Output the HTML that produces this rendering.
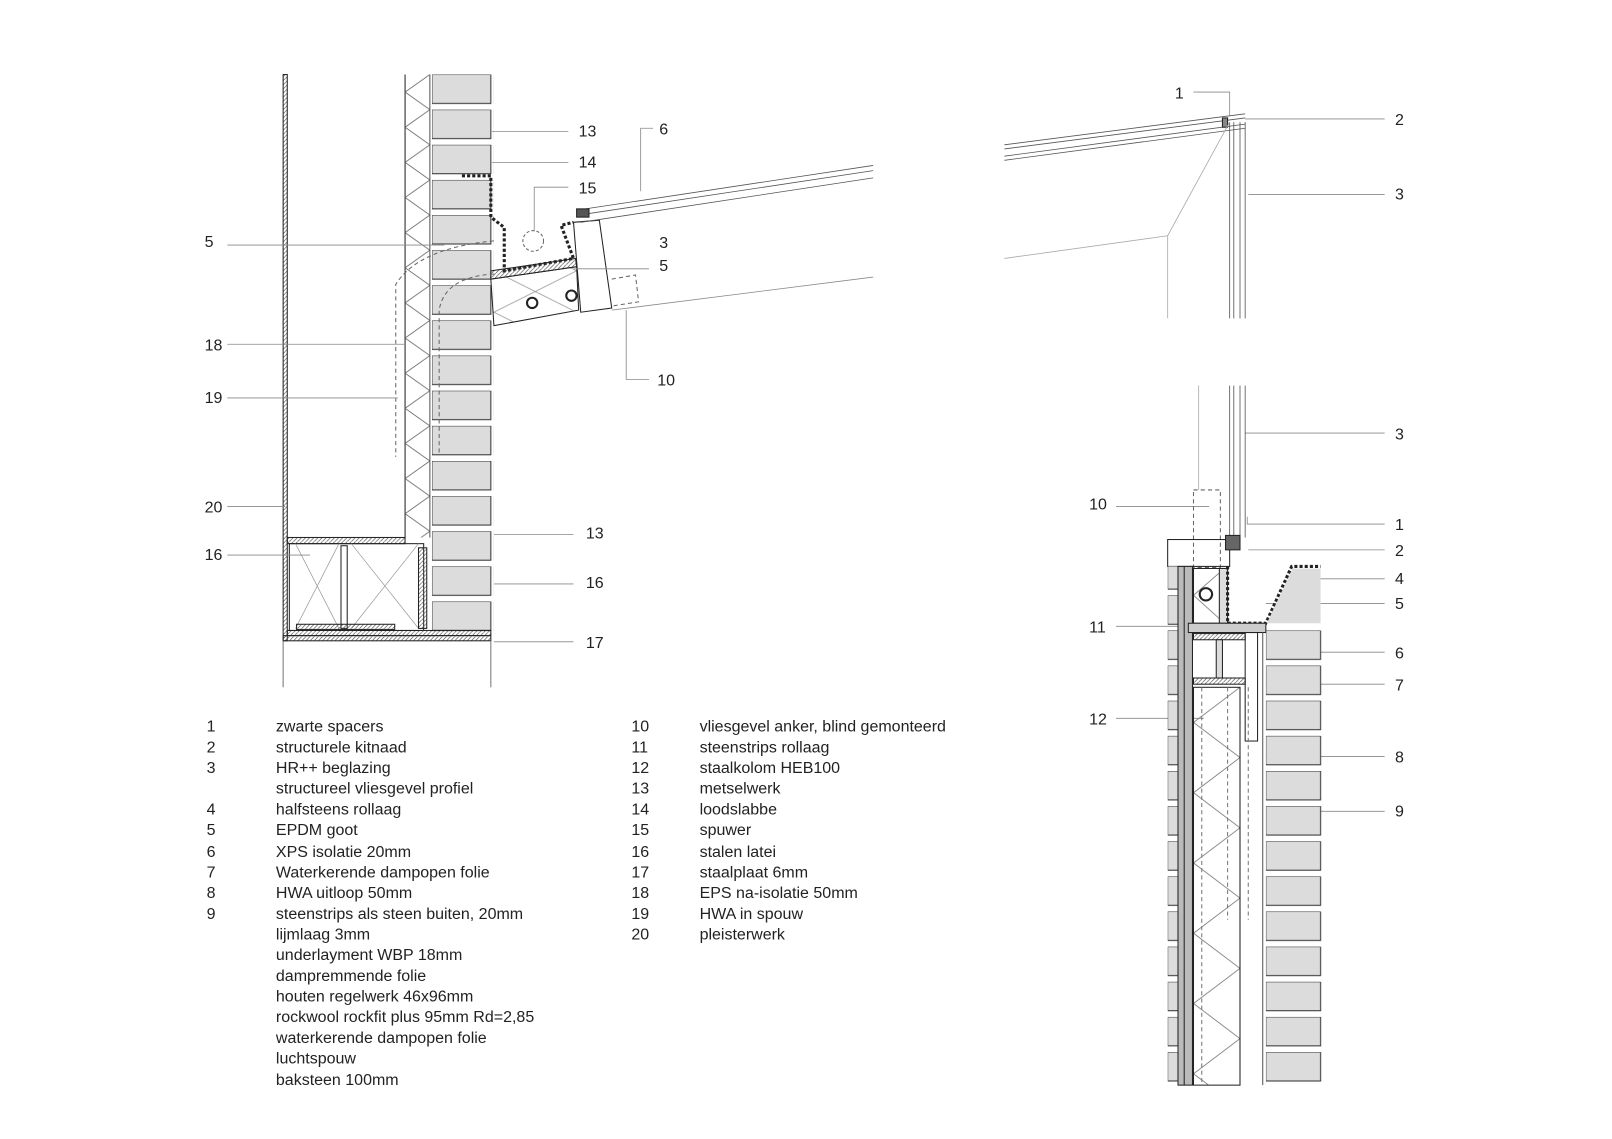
<!DOCTYPE html>
<html><head><meta charset="utf-8"><style>
html,body{margin:0;padding:0;background:#fff}
svg{display:block}
text{font-family:"Liberation Sans","DejaVu Sans",sans-serif;fill:#222}
.n{font-size:15.5px}.l{font-size:15.5px}
</style></head><body>
<svg width="1612" height="1139" viewBox="0 0 1560 1102" xmlns="http://www.w3.org/2000/svg">
<defs>
<pattern id="zzL" width="24" height="34" patternUnits="userSpaceOnUse" x="392" y="72"><path d="M24 0 L0 17 L24 34" fill="none" stroke="#666" stroke-width="0.8"/></pattern>
<pattern id="zzG" width="80" height="40" patternUnits="userSpaceOnUse" x="478" y="262"><path d="M0 0 L80 40 M80 0 L0 40" fill="none" stroke="#888" stroke-width="0.7"/></pattern>
<pattern id="zzS" width="30" height="53" patternUnits="userSpaceOnUse" x="1155" y="550"><path d="M30 0 L0 26 L30 53" fill="none" stroke="#777" stroke-width="0.8"/></pattern>
<pattern id="zzR" width="45" height="68" patternUnits="userSpaceOnUse" x="1155" y="665"><path d="M45 0 L0 34 L45 68" fill="none" stroke="#777" stroke-width="0.8"/></pattern>
<pattern id="brL" width="60" height="34" patternUnits="userSpaceOnUse" x="418" y="72"><rect x="0" y="0" width="57" height="28" fill="#dcdcdc" stroke="#333" stroke-width="1"/></pattern>
<pattern id="brR" width="60" height="34" patternUnits="userSpaceOnUse" x="1225" y="610"><rect x="0" y="0" width="53" height="28" fill="#dcdcdc" stroke="#333" stroke-width="1"/></pattern>
<pattern id="brS" width="20" height="34" patternUnits="userSpaceOnUse" x="1130" y="610"><rect x="0" y="0" width="10" height="28" fill="#dcdcdc" stroke="#333" stroke-width="1"/></pattern>
<pattern id="ht" width="4" height="4" patternUnits="userSpaceOnUse"><path d="M0 4 L4 0" stroke="#555" stroke-width="0.7"/></pattern>
</defs>
<g fill="none" stroke="#222" stroke-width="1">
<!-- LEFT DETAIL -->
<rect x="274" y="72" width="4" height="548" fill="url(#ht)"/>
<line x1="392" y1="72" x2="392" y2="520"/>
<rect x="392" y="72" width="24" height="448" fill="url(#zzL)" stroke="none"/>
<line x1="416" y1="72" x2="416" y2="520" stroke="#555"/>
<rect x="418" y="72" width="60" height="540" fill="url(#brL)" stroke="none"/>
<rect x="278" y="520" width="114" height="6" fill="url(#ht)"/>
<rect x="280" y="526" width="130" height="84"/>
<path d="M286 526 L328 608 M328 526 L286 608 M340 526 L405 608 M405 526 L340 608" stroke="#999" stroke-width="0.7"/>
<rect x="330" y="528" width="6" height="80" fill="#fff"/>
<rect x="287" y="604" width="95" height="5" fill="url(#ht)"/>
<rect x="405" y="530" width="8" height="78" fill="url(#ht)"/>
<rect x="278" y="610" width="197" height="5" fill="url(#ht)"/>
<rect x="274" y="615" width="201" height="5" fill="url(#ht)"/>
<line x1="274" y1="620" x2="274" y2="665" stroke="#777"/>
<line x1="475" y1="620" x2="475" y2="665" stroke="#777"/>
<!-- gutter -->
<path d="M447 170 L475 170 L475 210 L488 220 L488 262 L555 250 L543 218 L555 215" stroke-width="3" stroke-dasharray="3,2"/>
<path d="M555 215 L580 213 L592 298 L562 302 Z"/>
<path d="M475 270 L558 258 L560 300 L478 315 Z" fill="url(#zzG)"/>
<path d="M475 262 L557 250 L558 258 L475 270 Z" fill="url(#ht)"/>
<circle cx="515" cy="293" r="5" stroke-width="2"/>
<circle cx="553" cy="286" r="5" stroke-width="2"/>
<circle cx="516" cy="233" r="10" stroke-dasharray="3,2" stroke="#666"/>
<path d="M592 270 L615 266 L618 292 L592 296" stroke-dasharray="4,3" stroke="#666"/>
<path d="M478 233 Q405 240 383 275 L383 442" stroke-dasharray="4,3" stroke="#666"/>
<path d="M478 265 Q430 268 425 300 L425 440" stroke-dasharray="4,3" stroke="#666"/>
<path d="M560 203 L845 160 M560 208 L845 165 M562 215 L845 172" stroke="#555" stroke-width="0.8"/>
<rect x="558" y="202" width="12" height="8" fill="#555"/>
<path d="M592 300 L845 268" stroke="#888" stroke-width="0.8"/>
<!-- leaders left -->
<g stroke="#888" stroke-width="0.8">
<line x1="220" y1="237" x2="430" y2="237"/>
<line x1="220" y1="333" x2="392" y2="333"/>
<line x1="220" y1="385" x2="385" y2="385"/>
<line x1="220" y1="490" x2="276" y2="490"/>
<line x1="220" y1="537" x2="300" y2="537"/>
<line x1="476" y1="127" x2="550" y2="127"/>
<line x1="476" y1="157" x2="550" y2="157"/>
<path d="M550 181 L517 181 L517 224"/>
<path d="M632 124 L620 124 L620 185"/>
<line x1="555" y1="260" x2="628" y2="260"/>
<path d="M628 367 L606 367 L606 300"/>
<line x1="478" y1="517" x2="555" y2="517"/>
<line x1="478" y1="565" x2="555" y2="565"/>
<line x1="478" y1="621" x2="555" y2="621"/>
</g>
<!-- RIGHT TOP -->
<path d="M972 140 L1205 110 M972 144 L1205 114 M972 151 L1205 120 M972 155 L1205 124" stroke="#555" stroke-width="0.8"/>
<rect x="1183" y="114" width="5" height="9" fill="#888"/>
<path d="M1190 118 L1190 308 M1194 118 L1194 308 M1200 118 L1200 308 M1205 118 L1205 308" stroke="#555" stroke-width="0.8"/>
<path d="M1190 118 L1130 228 L972 250 M1130 228 L1130 308" stroke="#aaa" stroke-width="0.8"/>
<g stroke="#888" stroke-width="0.8">
<path d="M1155 89 L1190 89 L1190 112"/>
<line x1="1205" y1="115" x2="1340" y2="115"/>
<line x1="1208" y1="188" x2="1340" y2="188"/>
<line x1="1205" y1="419" x2="1340" y2="419"/>
<line x1="1080" y1="490" x2="1170" y2="490"/>
<path d="M1340 507 L1207 507 L1207 500"/>
<line x1="1208" y1="532" x2="1340" y2="532"/>
<line x1="1250" y1="560" x2="1340" y2="560"/>
<line x1="1225" y1="584" x2="1340" y2="584"/>
<line x1="1080" y1="606" x2="1165" y2="606"/>
<line x1="1278" y1="631" x2="1340" y2="631"/>
<line x1="1225" y1="662" x2="1340" y2="662"/>
<line x1="1080" y1="695" x2="1165" y2="695"/>
<line x1="1225" y1="732" x2="1340" y2="732"/>
<line x1="1278" y1="785" x2="1340" y2="785"/>
</g>
<!-- RIGHT BOTTOM -->
<path d="M1190 373 L1190 520 M1194 373 L1194 520 M1200 373 L1200 520 M1205 373 L1205 520" stroke="#555" stroke-width="0.8"/>
<line x1="1160" y1="373" x2="1160" y2="474" stroke="#aaa" stroke-width="0.8"/>
<rect x="1155" y="474" width="26" height="75" stroke-dasharray="4,3" stroke="#666"/>
<rect x="1130" y="522" width="60" height="26"/>
<rect x="1186" y="518" width="14" height="14" fill="#666"/>
<rect x="1130" y="548" width="10" height="502" fill="url(#brS)" stroke="none"/>
<rect x="1140" y="548" width="14" height="502" fill="#bbb"/>
<line x1="1146" y1="548" x2="1146" y2="1050"/>
<rect x="1155" y="550" width="30" height="53" fill="url(#zzS)"/>
<circle cx="1167" cy="575" r="6" stroke-width="2"/>
<rect x="1180" y="550" width="8" height="53" fill="#ddd"/>
<path d="M1188 548 L1188 603 L1225 603 L1250 548 L1278 548" stroke-width="3" stroke-dasharray="3,2"/>
<path d="M1226 603 L1251 550 L1278 550 L1278 603 Z" fill="#dcdcdc" stroke="none"/>
<rect x="1150" y="603" width="75" height="9" fill="#ccc"/>
<rect x="1155" y="613" width="50" height="6" fill="url(#ht)"/>
<rect x="1155" y="656" width="50" height="6" fill="url(#ht)"/>
<rect x="1177" y="619" width="6" height="37" fill="#ddd"/>
<rect x="1205" y="612" width="12" height="105"/>
<rect x="1155" y="665" width="45" height="385" fill="url(#zzR)"/>
<line x1="1200" y1="665" x2="1200" y2="1050"/>
<line x1="1163" y1="665" x2="1163" y2="1050" stroke-dasharray="4,3" stroke="#777"/>
<line x1="1188" y1="665" x2="1188" y2="890" stroke-dasharray="4,3" stroke="#777"/>
<line x1="1208" y1="665" x2="1208" y2="890" stroke-dasharray="4,3" stroke="#777"/>
<line x1="1222" y1="612" x2="1222" y2="1050" stroke="#555"/>
<rect x="1225" y="610" width="55" height="440" fill="url(#brR)" stroke="none"/>
</g>
<!-- numbers -->
<g class="n">
<text x="198" y="239">5</text><text x="198" y="339">18</text><text x="198" y="390">19</text><text x="198" y="496">20</text><text x="198" y="542">16</text>
<text x="560" y="132">13</text><text x="560" y="162">14</text><text x="560" y="187">15</text><text x="638" y="130">6</text>
<text x="638" y="240">3</text><text x="638" y="262">5</text><text x="636" y="373">10</text>
<text x="567" y="521">13</text><text x="567" y="569">16</text><text x="567" y="627">17</text>
<text x="1137" y="95">1</text><text x="1350" y="121">2</text><text x="1350" y="193">3</text>
<text x="1350" y="425">3</text><text x="1054" y="493">10</text><text x="1350" y="513">1</text><text x="1350" y="538">2</text>
<text x="1350" y="565">4</text><text x="1350" y="589">5</text><text x="1054" y="612">11</text><text x="1350" y="637">6</text>
<text x="1350" y="668">7</text><text x="1054" y="701">12</text><text x="1350" y="738">8</text><text x="1350" y="790">9</text>
</g>
<!-- legend -->
<g class="l">
<text x="200" y="708">1</text><text x="267" y="708">zwarte spacers</text>
<text x="200" y="728">2</text><text x="267" y="728">structurele kitnaad</text>
<text x="200" y="748">3</text><text x="267" y="748">HR++ beglazing</text>
<text x="267" y="768">structureel vliesgevel profiel</text>
<text x="200" y="788">4</text><text x="267" y="788">halfsteens rollaag</text>
<text x="200" y="808">5</text><text x="267" y="808">EPDM goot</text>
<text x="200" y="829">6</text><text x="267" y="829">XPS isolatie 20mm</text>
<text x="200" y="849">7</text><text x="267" y="849">Waterkerende dampopen folie</text>
<text x="200" y="869">8</text><text x="267" y="869">HWA uitloop 50mm</text>
<text x="200" y="889">9</text><text x="267" y="889">steenstrips als steen buiten, 20mm</text>
<text x="267" y="909">lijmlaag 3mm</text>
<text x="267" y="929">underlayment WBP 18mm</text>
<text x="267" y="949">dampremmende folie</text>
<text x="267" y="969">houten regelwerk 46x96mm</text>
<text x="267" y="989">rockwool rockfit plus 95mm Rd=2,85</text>
<text x="267" y="1009">waterkerende dampopen folie</text>
<text x="267" y="1029">luchtspouw</text>
<text x="267" y="1050">baksteen 100mm</text>
<text x="611" y="708">10</text><text x="677" y="708">vliesgevel anker, blind gemonteerd</text>
<text x="611" y="728">11</text><text x="677" y="728">steenstrips rollaag</text>
<text x="611" y="748">12</text><text x="677" y="748">staalkolom HEB100</text>
<text x="611" y="768">13</text><text x="677" y="768">metselwerk</text>
<text x="611" y="788">14</text><text x="677" y="788">loodslabbe</text>
<text x="611" y="808">15</text><text x="677" y="808">spuwer</text>
<text x="611" y="829">16</text><text x="677" y="829">stalen latei</text>
<text x="611" y="849">17</text><text x="677" y="849">staalplaat 6mm</text>
<text x="611" y="869">18</text><text x="677" y="869">EPS na-isolatie 50mm</text>
<text x="611" y="889">19</text><text x="677" y="889">HWA in spouw</text>
<text x="611" y="909">20</text><text x="677" y="909">pleisterwerk</text>
</g>
</svg>
</body></html>
